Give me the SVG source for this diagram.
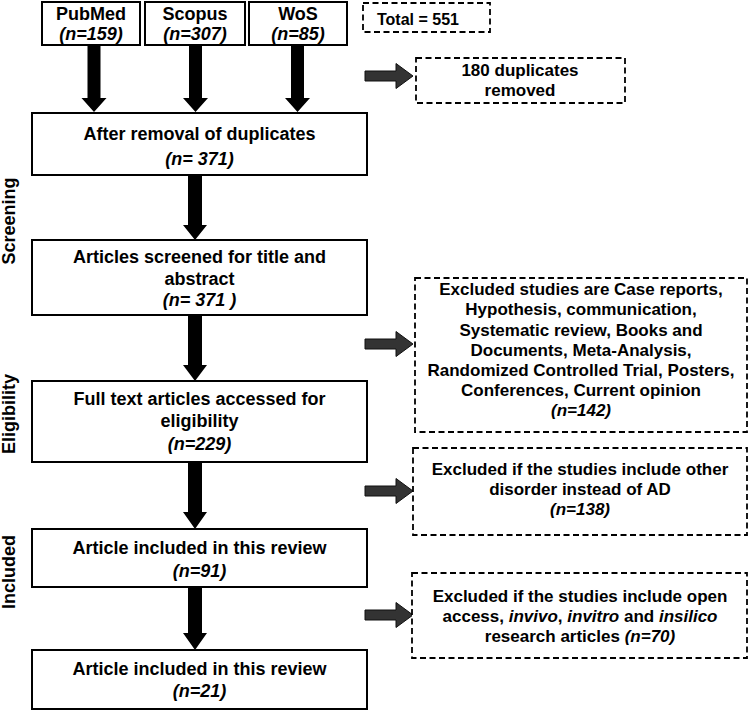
<svg xmlns="http://www.w3.org/2000/svg" width="750" height="711" viewBox="0 0 750 711">
<style>
text{font-family:"Liberation Sans",Arial,sans-serif;font-weight:bold;fill:#000;text-anchor:middle}
.m{font-size:18px}
.s{font-size:17px}
.t{font-size:16px;text-anchor:start}
.it{font-style:italic}
.box{fill:#fff;stroke:#000;stroke-width:2}
.dbox{fill:#fff;stroke:#000;stroke-width:1.8;stroke-dasharray:6 3.5}
.down{fill:#000}
.right{fill:#333;stroke:#111;stroke-width:1}
</style>
<rect width="750" height="711" fill="#fff"/>
<g id="connectors">
<path class="down" d="M87.5,45H100.5V98H106.5L94,112L81.5,98H87.5Z"/>
<path class="down" d="M189,45H202V98H208L195.5,112L183,98H189Z"/>
<path class="down" d="M291,45H304V98H310L297.5,112L285,98H291Z"/>
<path class="down" d="M188,175H202V225H207L195,240L183,225H188Z"/>
<path class="down" d="M188,315H202V365H207L195,381L183,365H188Z"/>
<path class="down" d="M188,462H202V512H207L195,529L183,512H188Z"/>
<path class="down" d="M188,587H202V633H207L195,650L183,633H188Z"/>
<path class="right" d="M365,71H396V63.5L413,76L396,88.5V81H365Z"/>
<path class="right" d="M365,339H396V331.5L413,344L396,356.5V349H365Z"/>
<path class="right" d="M365,486H396V478.5L413,491L396,503.5V496H365Z"/>
<path class="right" d="M365,610H396V602.5L413,615L396,627.5V620H365Z"/>
</g>
<g id="pubmed"><rect class="box" x="42" y="2" width="98" height="43"/><text class="m" x="91" y="20">PubMed</text><text class="m it" x="91" y="40">(n=159)</text></g>
<g id="scopus"><rect class="box" x="145" y="2" width="100" height="43"/><text class="m" x="195" y="20">Scopus</text><text class="m it" x="195" y="40">(n=307)</text></g>
<g id="wos"><rect class="box" x="249" y="2" width="98" height="43"/><text class="m" x="298" y="20">WoS</text><text class="m it" x="298" y="40">(n=85)</text></g>
<g id="total"><rect class="dbox" x="363" y="3" width="127" height="29"/><text class="t" x="377" y="25">Total = 551</text></g>
<g id="duplicates"><rect class="dbox" x="416" y="58" width="209" height="45"/><text class="s" x="520" y="76">180 duplicates</text><text class="s" x="520" y="96">removed</text></g>
<g id="after-removal"><rect class="box" x="32" y="113" width="335" height="62"/><text class="m" x="199.5" y="140">After removal of duplicates</text><text class="m it" x="199.5" y="165">(n= 371)</text></g>
<g id="screened"><rect class="box" x="32" y="240" width="335" height="75"/><text class="m" x="199.5" y="263">Articles screened for title and</text><text class="m" x="199.5" y="285">abstract</text><text class="m it" x="199.5" y="306">(n= 371 )</text></g>
<g id="excluded-1"><rect class="dbox" x="415" y="278" width="332" height="154"/>
<text class="s" x="581" y="295">Excluded studies are Case reports,</text>
<text class="s" x="581" y="315">Hypothesis, communication,</text>
<text class="s" x="581" y="335.5">Systematic review, Books and</text>
<text class="s" x="581" y="355.5">Documents, Meta-Analysis,</text>
<text class="s" x="581" y="376">Randomized Controlled Trial, Posters,</text>
<text class="s" x="581" y="396">Conferences, Current opinion</text>
<text class="s it" x="581" y="416">(n=142)</text></g>
<g id="fulltext"><rect class="box" x="32" y="381" width="335" height="81"/><text class="m" x="199.5" y="405">Full text articles accessed for</text><text class="m" x="199.5" y="427">eligibility</text><text class="m it" x="199.5" y="450">(n=229)</text></g>
<g id="excluded-2"><rect class="dbox" x="413" y="448" width="334" height="87"/>
<text class="s" x="580" y="475">Excluded if the studies include other</text>
<text class="s" x="580" y="495">disorder instead of AD</text>
<text class="s it" x="580" y="515">(n=138)</text></g>
<g id="included-91"><rect class="box" x="32" y="529" width="335" height="58"/><text class="m" x="199.5" y="554">Article included in this review</text><text class="m it" x="199.5" y="577">(n=91)</text></g>
<g id="excluded-3"><rect class="dbox" x="412" y="573" width="335" height="85"/>
<text class="s" x="580" y="602">Excluded if the studies include open</text>
<text class="s" x="580" y="622">access, <tspan class="it">invivo</tspan>, <tspan class="it">invitro</tspan> and <tspan class="it">insilico</tspan></text>
<text class="s" x="580" y="642">research articles <tspan class="it">(n=70)</tspan></text></g>
<g id="included-21"><rect class="box" x="32" y="650" width="335" height="59"/><text class="m" x="199.5" y="675">Article included in this review</text><text class="m it" x="199.5" y="697">(n=21)</text></g>
<g id="phase-labels">
<text class="m" transform="translate(15,221) rotate(-90)">Screening</text>
<text class="m" transform="translate(15,414) rotate(-90)">Eligibility</text>
<text class="m" transform="translate(15,572) rotate(-90)">Included</text>
</g>
</svg>
